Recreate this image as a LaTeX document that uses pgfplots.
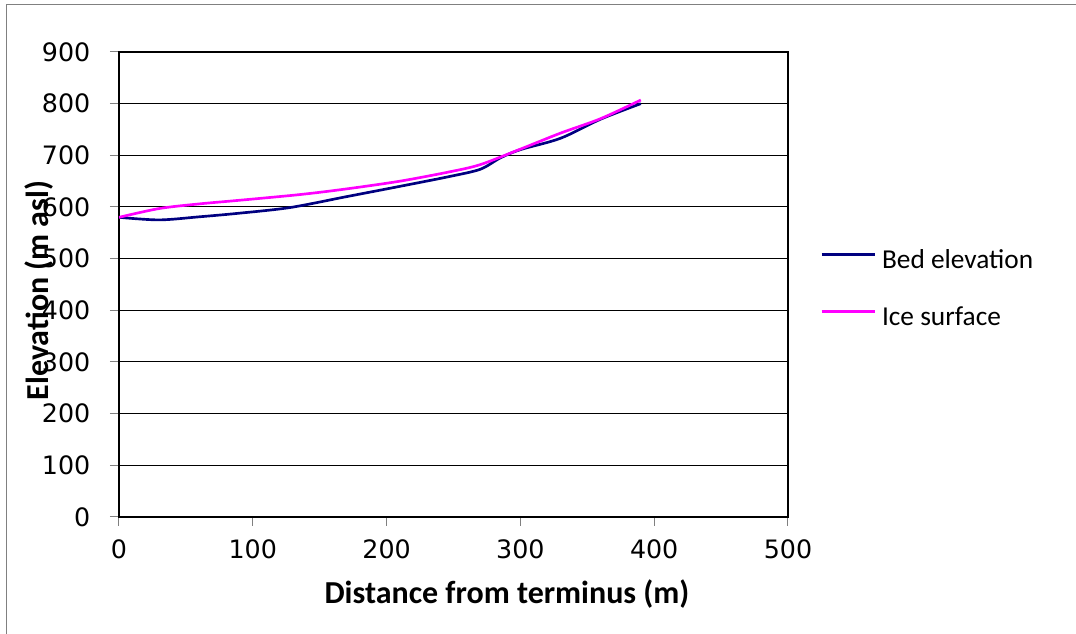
\documentclass[border=0pt]{standalone}
\usepackage{pgfplots}
\pgfplotsset{compat=1.18}
\usetikzlibrary{calc}
\usepackage{fontspec}
\setmainfont{Carlito}
\newfontfamily\tickfont{DejaVu Sans}

\definecolor{bedblue}{RGB}{0,0,128}
\definecolor{icepink}{RGB}{255,0,255}
\definecolor{framegray}{RGB}{128,128,128}

\pgfplotstableread{
x   y
0   580
30  575
60  581
90  588
128 599
170 620
210 640
247 659
270 673
285 695
300 711
330 733
360 770
390 800
}\bedtable

\pgfplotstableread{
x   y
0   580
30  597
60  606
90  613
135 624
170 635
210 650
247 668
270 682
300 712
330 743
360 771
390 807
}\icetable

\begin{document}
\begin{tikzpicture}[x=0.75pt,y=0.75pt]
\begin{axis}[
    scale only axis,
    width=501.75pt, height=348.75pt,
    xmin=0, xmax=500, ymin=0, ymax=900,
    xtick={0,100,...,500},
    ytick={0,100,...,900},
    tick pos=left,
    axis line style={black,line width=1.5pt},
    tick align=outside,
    major tick length=6.75pt,
    tick style={framegray,line width=0.75pt},
    ymajorgrids,
    major grid style={black,line width=0.75pt},
    /pgf/number format/assume math mode=true,
    ticklabel style={font=\tickfont\fontsize{19}{22}\selectfont},
    xticklabel style={yshift=-6.75pt},
    yticklabel style={xshift=-11.25pt},
    xlabel={Distance from terminus (m)},
    ylabel={Elevation (m asl)},
    xlabel style={at={(axis description cs:0.58,-0.185)},anchor=base,
        font=\bfseries\fontsize{24}{28}\selectfont,inner sep=0pt},
    ylabel style={at={(axis description cs:-0.106,0.487)},anchor=base,
        font=\bfseries\fontsize{24}{28}\selectfont,inner sep=0pt},
    legend style={at={(axis description cs:1.048,0.485)},anchor=west,
        draw=none,fill=none,inner sep=0pt,
        font=\fontsize{20.5}{24}\selectfont,
        nodes={inner sep=0pt,text height=14pt,text depth=5pt},
        row sep=23.75pt,column sep=4.5pt},
    legend cell align=left,
    legend image code/.code={\draw[#1] (0pt,6.5pt) -- (39.75pt,6.5pt);},
]
\addplot[bedblue,line width=2pt,smooth] table[x=x,y=y] {\bedtable};
\addlegendentry{Bed elevation}
\addplot[icepink,line width=2pt,smooth] table[x=x,y=y] {\icetable};
\addlegendentry{Ice surface}
\coordinate (O) at (rel axis cs:0,0);
\end{axis}
\pgfresetboundingbox
\useasboundingbox ($(O)+(-119,-117)$) rectangle ++(1076,634);
\draw[framegray,line width=0.75pt] ($(O)+(-112,-117)$) -- ++(0,629) -- ++(1069,0);
\end{tikzpicture}
\end{document}
